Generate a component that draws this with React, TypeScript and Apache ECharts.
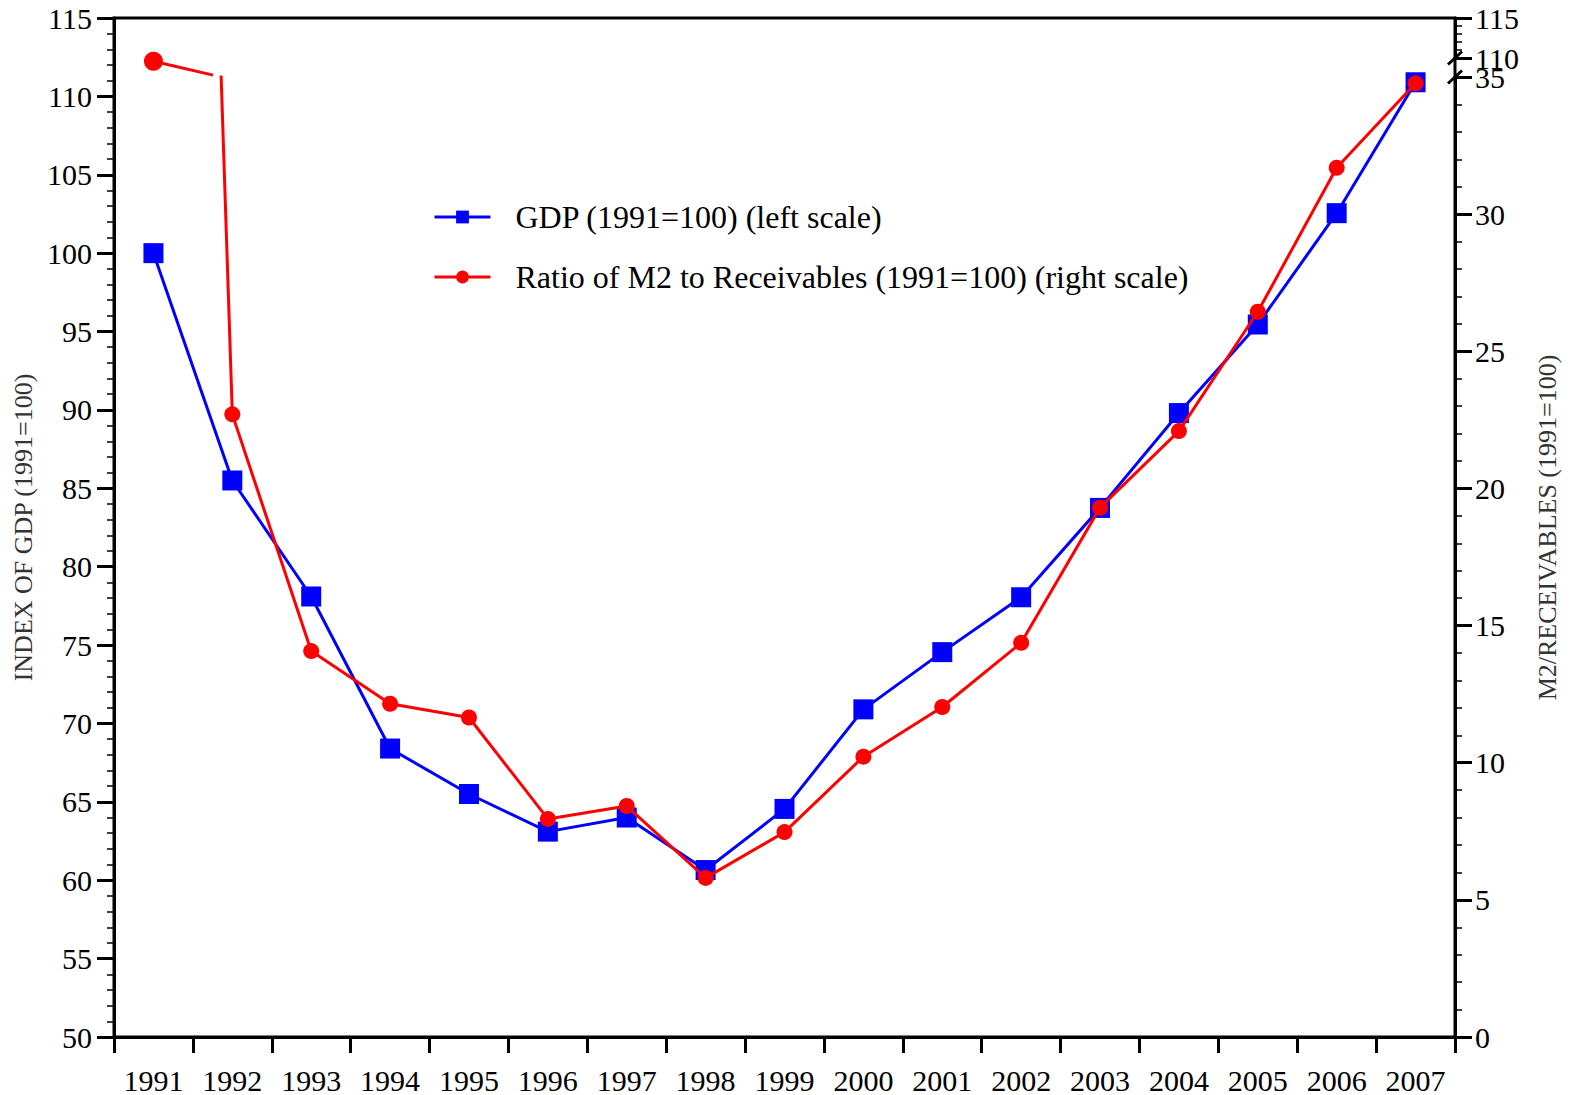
import React, { useEffect, useRef } from "react";
import * as echarts from "echarts";

const years = ["1991","1992","1993","1994","1995","1996","1997","1998","1999","2000","2001","2002","2003","2004","2005","2006","2007"];
const gdpIndex = [100, 85.5, 78.1, 68.4, 65.5, 63.1, 64.0, 60.65, 64.55, 70.9, 74.55, 78.05, 83.75, 89.8, 95.45, 102.55, 110.9];
const m2Ratio = [109.6, 22.7, 14.07, 12.15, 11.65, 7.95, 8.42, 5.8, 7.47, 10.22, 12.03, 14.37, 19.3, 22.09, 26.44, 31.69, 34.77];

const leftTicks = [50, 55, 60, 65, 70, 75, 80, 85, 90, 95, 100, 105, 110, 115];
const rightLowerTicks = [0, 5, 10, 15, 20, 25, 30, 35];
const rightUpperTicks = [110, 115];

const gdpName = "GDP (1991=100) (left scale)";
const m2Name = "Ratio of M2 to Receivables (1991=100) (right scale)";
const leftAxisName = "INDEX OF GDP (1991=100)";
const rightAxisName = "M2/RECEIVABLES (1991=100)";

const FONT = "'Liberation Serif', 'Times New Roman', serif";
const W = 1570;
const H = 1095;
const GL = 114;
const GR = 115;
const GT = 18;
const GB = 58;
const LOWER_TOP = 77;
const UPPER_H = 40;

const axisLineStyle = { color: "#000", width: 3 };

function valueAxisCommon(ticks: number[], margin: number) {
  return {
    type: "value",
    min: ticks[0],
    max: ticks[ticks.length - 1],
    interval: ticks[1] - ticks[0],
    axisLine: { show: true, lineStyle: axisLineStyle },
    axisTick: { show: true, length: 17, lineStyle: { color: "#000", width: 3 } },
    minorTick: { show: true, splitNumber: 5, length: 7, lineStyle: { color: "#000", width: 1.5 } },
    splitLine: { show: false },
    minorSplitLine: { show: false },
    axisLabel: {
      fontSize: 30,
      color: "#000",
      fontFamily: FONT,
      margin,
      showMinLabel: true,
      showMaxLabel: true,
    },
  };
}

export default function App() {
  const ref = useRef<HTMLDivElement>(null);
  useEffect(() => {
    if (!ref.current) return;
    const chart = echarts.init(ref.current, null, { renderer: "svg" });
    const lowerMax = rightLowerTicks[rightLowerTicks.length - 1];
    const option: any = {
      animation: false,
      backgroundColor: "#fff",
      textStyle: { fontFamily: FONT },
      grid: [
        { left: GL, right: GR, top: GT, bottom: GB, show: true, borderColor: "#000", borderWidth: 3 },
        { left: GL, right: GR, top: LOWER_TOP, bottom: GB },
        { left: GL, right: GR, top: GT, height: UPPER_H },
      ],
      legend: {
        orient: "vertical",
        left: 428,
        top: 196,
        itemWidth: 56,
        itemHeight: 16,
        itemGap: 28,
        data: [gdpName, m2Name],
        lineStyle: { width: 3 },
        textStyle: { fontSize: 32, color: "#000", fontFamily: FONT, lineHeight: 32, padding: [0, 0, 0, 20] },
      },
      xAxis: [
        {
          type: "category",
          gridIndex: 0,
          data: years,
          boundaryGap: true,
          axisLine: { lineStyle: axisLineStyle },
          axisTick: { show: true, length: 16, lineStyle: { color: "#000", width: 3 } },
          axisLabel: { fontSize: 30, color: "#000", fontFamily: FONT, margin: 28, interval: 0 },
          splitLine: { show: false },
        },
        { type: "category", gridIndex: 1, data: years, boundaryGap: true, show: false },
        { type: "category", gridIndex: 2, data: years, boundaryGap: true, show: false },
      ],
      yAxis: [
        {
          ...valueAxisCommon(leftTicks, 22),
          gridIndex: 0,
          position: "left",
          name: leftAxisName,
          nameLocation: "middle",
          nameGap: 74,
          nameRotate: 90,
          nameTextStyle: { fontSize: 26, color: "#333", fontFamily: FONT },
        },
        {
          ...valueAxisCommon(rightLowerTicks, 20),
          gridIndex: 1,
          position: "right",
        },
        {
          ...valueAxisCommon(rightUpperTicks, 20),
          gridIndex: 2,
          position: "right",
        },
        {
          type: "value",
          gridIndex: 0,
          position: "right",
          min: 0,
          max: 1,
          axisLine: { show: false },
          axisTick: { show: false },
          axisLabel: { show: false },
          splitLine: { show: false },
          name: rightAxisName,
          nameLocation: "middle",
          nameGap: 79,
          nameRotate: 90,
          nameTextStyle: { fontSize: 26, color: "#333", fontFamily: FONT },
        },
      ],
      series: [
        {
          name: gdpName,
          type: "line",
          xAxisIndex: 0,
          yAxisIndex: 0,
          data: gdpIndex,
          symbol: "rect",
          symbolSize: 20,
          lineStyle: { color: "#0000ff", width: 3 },
          itemStyle: { color: "#0000ff" },
          z: 2,
        },
        {
          name: m2Name,
          type: "line",
          xAxisIndex: 1,
          yAxisIndex: 1,
          data: m2Ratio,
          symbol: "circle",
          symbolSize: 16,
          clip: true,
          lineStyle: { color: "#ff0000", width: 3 },
          itemStyle: { color: "#ff0000" },
          z: 3,
        },
        {
          name: m2Name,
          type: "line",
          xAxisIndex: 2,
          yAxisIndex: 2,
          data: m2Ratio.map((v) => (v > lowerMax ? v : null)),
          symbol: "circle",
          symbolSize: 19,
          clip: false,
          lineStyle: { color: "#ff0000", width: 3 },
          itemStyle: { color: "#ff0000" },
          z: 3,
        },
      ],
    };
    chart.setOption(option);

    // Stub of the red line above the axis break, and the break marks
    const firstIdx = m2Ratio.findIndex((v) => v > lowerMax);
    const graphics: any[] = [];
    if (firstIdx >= 0 && firstIdx + 1 < m2Ratio.length) {
      const pUp = chart.convertToPixel({ xAxisIndex: 2, yAxisIndex: 2 }, [years[firstIdx], m2Ratio[firstIdx]]) as number[];
      const pA = chart.convertToPixel({ xAxisIndex: 1, yAxisIndex: 1 }, [years[firstIdx], m2Ratio[firstIdx]]) as number[];
      const pB = chart.convertToPixel({ xAxisIndex: 1, yAxisIndex: 1 }, [years[firstIdx + 1], m2Ratio[firstIdx + 1]]) as number[];
      const yTop = (chart.convertToPixel({ xAxisIndex: 1, yAxisIndex: 1 }, [years[0], lowerMax]) as number[])[1];
      const t = (yTop - pA[1]) / (pB[1] - pA[1]);
      const xInt = pA[0] + t * (pB[0] - pA[0]);
      const f = 0.88;
      graphics.push({
        type: "line",
        shape: { x1: pUp[0], y1: pUp[1], x2: pUp[0] + f * (xInt - pUp[0]), y2: pUp[1] + f * (yTop - pUp[1]) },
        style: { stroke: "#ff0000", lineWidth: 3 },
        z: 10,
      });
    }
    const axisX = W - GR;
    const y110 = (chart.convertToPixel({ xAxisIndex: 2, yAxisIndex: 2 }, [years[0], rightUpperTicks[0]]) as number[])[1];
    const y35 = (chart.convertToPixel({ xAxisIndex: 1, yAxisIndex: 1 }, [years[0], lowerMax]) as number[])[1];
    [y110, y35].forEach((yy) => {
      graphics.push({
        type: "line",
        shape: { x1: axisX - 7, y1: yy + 6.5, x2: axisX + 7, y2: yy - 6.5 },
        style: { stroke: "#000", lineWidth: 3 },
        z: 10,
      });
    });
    chart.setOption({ graphic: { elements: graphics } });

    return () => chart.dispose();
  }, []);
  return (
    <div
      ref={ref}
      style={{ position: "absolute", left: 0, top: 0, width: W, height: H, background: "#fff" }}
    />
  );
}
